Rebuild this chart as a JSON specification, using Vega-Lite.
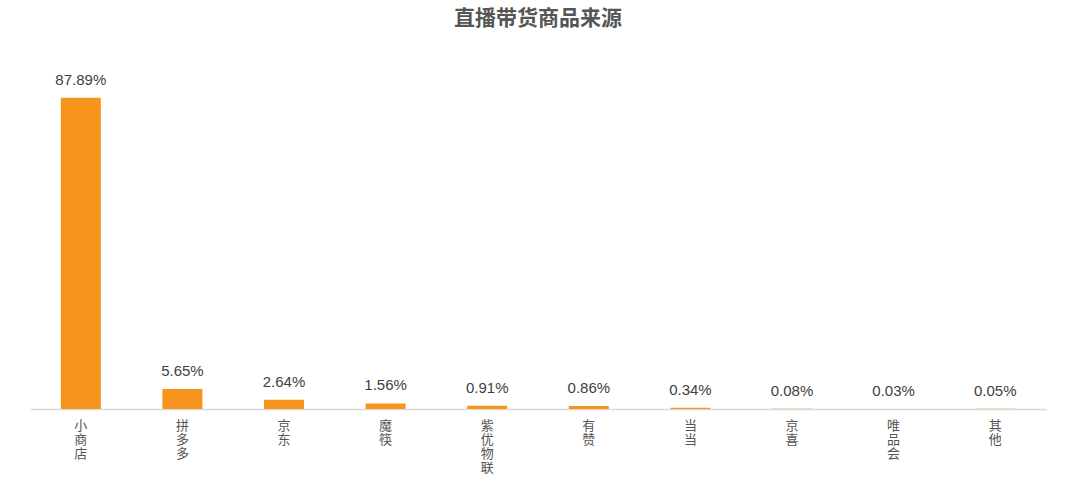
{
  "$schema": "https://vega.github.io/schema/vega-lite/v6.json",
  "autosize": {"type": "none"},
  "width": 1016,
  "height": 354,
  "padding": {"left": 30, "top": 55, "right": 34, "bottom": 77},
  "background": "white",
  "title": {
    "text": "直播带货商品来源",
    "font": "Noto Sans CJK SC",
    "fontSize": 21,
    "fontWeight": "bold",
    "color": "#555555",
    "anchor": "middle",
    "offset": 26
  },
  "data": {
    "values": [
      {"source": "小商店", "value": 87.89},
      {"source": "拼多多", "value": 5.65},
      {"source": "京东", "value": 2.64},
      {"source": "魔筷", "value": 1.56},
      {"source": "紫优物联", "value": 0.91},
      {"source": "有赞", "value": 0.86},
      {"source": "当当", "value": 0.34},
      {"source": "京喜", "value": 0.08},
      {"source": "唯品会", "value": 0.03},
      {"source": "其他", "value": 0.05}
    ]
  },
  "transform": [
    {"calculate": "format(datum.value, '.2f') + '%'", "as": "label"}
  ],
  "encoding": {
    "x": {
      "field": "source",
      "type": "nominal",
      "sort": null,
      "axis": {
        "title": null,
        "labelAngle": 0,
        "labelExpr": "split(datum.label, '')",
        "labelFont": "Noto Sans CJK SC",
        "labelFontSize": 13,
        "labelLineHeight": 14,
        "labelColor": "#555555",
        "labelPadding": 10,
        "ticks": false,
        "domainColor": "#d9d9d9",
        "domainWidth": 1.5,
        "labelBaseline": "top"
      }
    },
    "y": {
      "field": "value",
      "type": "quantitative",
      "scale": {"domain": [0, 100]},
      "axis": null
    }
  },
  "layer": [
    {"mark": {"type": "bar", "size": 40, "color": "#F7941D"}},
    {
      "mark": {"type": "text", "dy": -18, "font": "Liberation Sans", "fontSize": 15, "color": "#404040"},
      "encoding": {
        "text": {"field": "label", "type": "nominal"}
      }
    }
  ],
  "config": {"view": {"stroke": null}, "axis": {"grid": false}}
}
